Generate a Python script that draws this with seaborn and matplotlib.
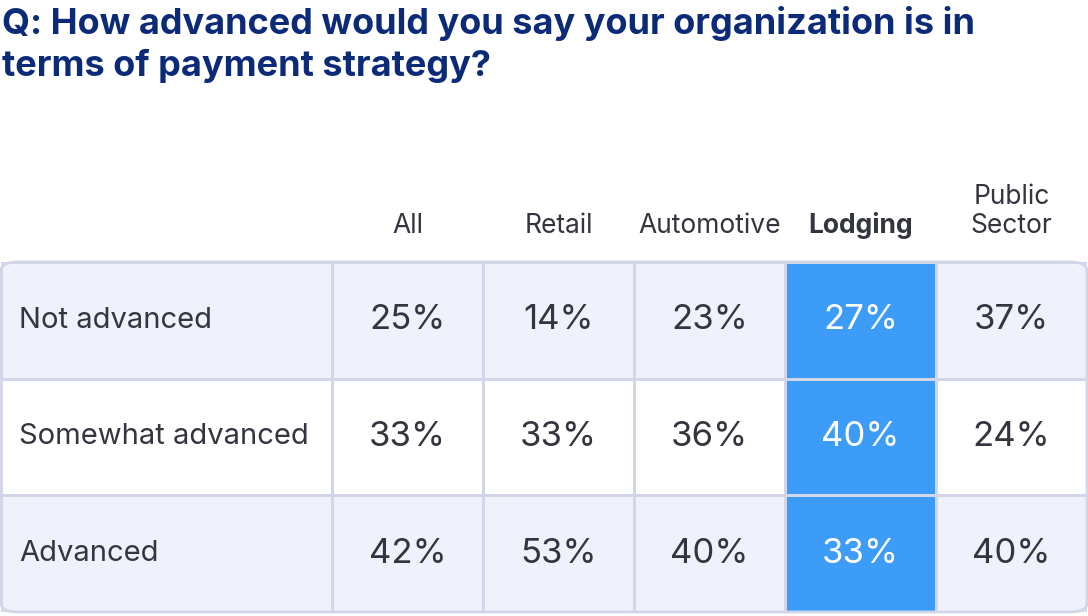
import numpy as np
import seaborn as sns
import matplotlib.pyplot as plt
from matplotlib.colors import ListedColormap
from matplotlib.patches import FancyBboxPatch

segments = ['All', 'Retail', 'Automotive', 'Lodging', 'Public\nSector']
levels = ['Not advanced', 'Somewhat advanced', 'Advanced']
values = np.array([
    [25, 14, 23, 27, 37],
    [33, 33, 36, 40, 24],
    [42, 53, 40, 33, 40],
])
highlight = 'Lodging'

navy = '#0b2a78'
text_c = '#33353f'
light = '#eff2fb'
blue = '#3d9cf8'
grid = '#d2d6e8'

plt.rcParams['font.family'] = ['Inter', 'DejaVu Sans']
fig = plt.figure(figsize=(10.88, 6.16), dpi=100)

fig.text(0.002, 0.99, 'Q: How advanced would you say your organization is in\nterms of payment strategy?',
         color=navy, fontsize=26, fontweight='bold', va='top', linespacing=1.3)

cmap = ListedColormap(['white', light, blue])
row_shade = np.array([[1], [0], [1]])
codes = np.repeat(row_shade, len(segments), axis=1)
hi = segments.index(highlight)
codes[:, hi] = 2

W, H = 1088, 616
top, bottom = 262, 612
lab_ax = fig.add_axes([1 / W, 1 - bottom / H, 331 / W, (bottom - top) / H])
dat_ax = fig.add_axes([332 / W, 1 - bottom / H, 755 / W, (bottom - top) / H])

sns.heatmap(row_shade, ax=lab_ax, cmap=cmap, vmin=0, vmax=2, cbar=False,
            linewidths=1, linecolor=grid, xticklabels=False, yticklabels=False)
sns.heatmap(codes, ax=dat_ax, cmap=cmap, vmin=0, vmax=2, cbar=False,
            linewidths=1, linecolor=grid, xticklabels=False, yticklabels=False)

for i, lv in enumerate(levels):
    lab_ax.text(0.055, i + 0.5, lv, ha='left', va='center', fontsize=21, color=text_c)
    for j in range(len(segments)):
        c = 'white' if j == hi else text_c
        dat_ax.text(j + 0.5, i + 0.5, f'{values[i, j]}%', ha='center', va='center',
                    fontsize=25, color=c)

for j, s in enumerate(segments):
    dat_ax.text(j + 0.5, -0.2, s, ha='center', va='bottom', fontsize=19,
                color=text_c, fontweight='bold' if s == highlight else 'normal',
                linespacing=1.15)

for ax in (lab_ax, dat_ax):
    for sp in ax.spines.values():
        sp.set_visible(False)

border = FancyBboxPatch((1 / W, 1 - bottom / H), 1086 / W, (bottom - top) / H,
                        boxstyle='round,pad=0,rounding_size=0.015', transform=fig.transFigure,
                        fill=False, edgecolor=grid, linewidth=2, zorder=10)
fig.patches.append(border)

fig.savefig('out.png', dpi=100)
